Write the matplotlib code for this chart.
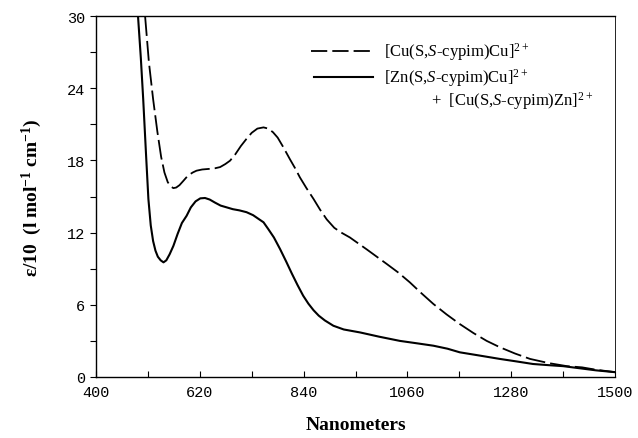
import matplotlib
matplotlib.use("Agg")
from matplotlib import pyplot as plt

plt.rcParams['mathtext.fontset'] = 'custom'
plt.rcParams['mathtext.rm'] = 'Liberation Serif'
plt.rcParams['mathtext.it'] = 'Liberation Serif:italic'
plt.rcParams['mathtext.bf'] = 'Liberation Serif:bold'

# [Cu(S,S-cypim)Cu]2+  (dashed)
cucu_nm = [504, 512, 521, 530, 538, 545, 552, 558, 564, 570, 577, 585, 595, 605, 613, 625, 640,
           652, 663, 674, 684, 695, 707, 719, 730, 742, 755, 765, 775, 785, 797, 811, 822,
           832, 846, 861, 875, 889, 905, 920, 938, 956, 974, 995, 1016, 1040, 1065, 1090,
           1115, 1143, 1171, 1200, 1228, 1256, 1288, 1320, 1360, 1398, 1430, 1460, 1500]
cucu_eps = [30.0, 26.2, 23.1, 20.4, 18.3, 17.0, 16.2, 15.85, 15.7, 15.75, 15.95, 16.3, 16.75, 17.0, 17.15, 17.25, 17.3,
            17.35, 17.45, 17.7, 17.98, 18.5, 19.2, 19.8, 20.3, 20.65, 20.75, 20.65, 20.35, 19.9, 19.1, 18.1, 17.35,
            16.6, 15.7, 14.8, 13.9, 13.1, 12.4, 12.0, 11.6, 11.1, 10.6, 10.0, 9.4, 8.7, 7.87, 6.95,
            6.07, 5.2, 4.4, 3.65, 3.0, 2.47, 1.95, 1.5, 1.15, 0.9, 0.8, 0.6, 0.4]

# [Zn(S,S-cypim)Cu]2+ + [Cu(S,S-cypim)Zn]2+  (solid)
zncu_nm = [489, 495, 500, 506, 511, 516, 521, 526, 531, 537, 543, 549, 556, 564, 573, 582, 592,
           601, 611, 621, 631, 641, 652, 664, 677, 690, 704, 719, 733, 746, 755, 765, 777, 790,
           803, 815, 827, 839, 850, 861, 872, 885, 903, 925, 960, 1000, 1044, 1080, 1115, 1145,
           1171, 1210, 1256, 1290, 1326, 1360, 1390, 1420, 1460, 1500]
zncu_eps = [30.0, 26.5, 23.1, 18.5, 14.8, 12.6, 11.3, 10.5, 10.0, 9.7, 9.53, 9.7, 10.2, 10.9, 11.9, 12.8, 13.4,
            14.1, 14.6, 14.85, 14.88, 14.75, 14.5, 14.25, 14.1, 13.95, 13.85, 13.7, 13.45, 13.1, 12.86, 12.3, 11.6, 10.64,
            9.6, 8.6, 7.65, 6.76, 6.1, 5.55, 5.1, 4.7, 4.26, 3.95, 3.7, 3.35, 3.0, 2.8, 2.6, 2.35,
            2.05, 1.8, 1.5, 1.3, 1.08, 0.98, 0.9, 0.75, 0.55, 0.4]

x_major = [400, 620, 840, 1060, 1280, 1500]
x_minor = [510, 730, 950, 1170, 1390]
y_major = [0, 6, 12, 18, 24, 30]
y_minor = [3, 9, 15, 21, 27]

fig = plt.figure(figsize=(6.38, 4.39), dpi=100)
ax = fig.add_axes([0.1505, 0.139, 0.8135, 0.822])

ax.plot(cucu_nm, cucu_eps, color='black', lw=1.3, dashes=(11, 2.8))
ax.plot(zncu_nm, zncu_eps, color='black', lw=1.5)

ax.set_xlim(400, 1500)
ax.set_ylim(0, 30)
ax.set_xticks(x_major)
ax.set_xticks(x_minor, minor=True)
ax.set_yticks(y_major)
ax.set_yticks(y_minor, minor=True)
ax.tick_params(axis='x', which='both', direction='in', length=4, width=0.8, pad=6)
ax.tick_params(axis='y', which='both', direction='out', length=4, width=0.8, pad=4)
for lab in ax.get_xticklabels() + ax.get_yticklabels():
    lab.set_fontfamily('Liberation Mono')
    lab.set_fontsize(11)

for s in ['left', 'bottom', 'top']:
    ax.spines[s].set_linewidth(1.0)
ax.spines['right'].set_linewidth(0.6)

ax.set_xlabel('Nanometers', fontfamily='Liberation Serif', fontweight='bold', fontsize=14, labelpad=12)
ax.set_ylabel(r'$\mathbf{\varepsilon/10\ \ (l\ mol^{-1}\ cm^{-1})}$', fontsize=14, labelpad=16)

# legend drawn by hand
tr = ax.transAxes
ax.plot([0.414, 0.533], [0.903, 0.903], transform=tr, color='black', lw=1.3, dashes=(9, 2.8))
ax.plot([0.420, 0.533], [0.831, 0.831], transform=tr, color='black', lw=1.5)
ax.text(0.555, 0.903, r'[Cu(S,$\mathit{S}$-cypim)Cu]$^{2+}$', transform=tr, fontsize=12, va='center',
        fontfamily='Liberation Serif')
ax.text(0.555, 0.831, r'[Zn(S,$\mathit{S}$-cypim)Cu]$^{2+}$', transform=tr, fontsize=12, va='center',
        fontfamily='Liberation Serif')
ax.text(0.645, 0.768, r'+  [Cu(S,$\mathit{S}$-cypim)Zn]$^{2+}$', transform=tr, fontsize=12, va='center',
        fontfamily='Liberation Serif')

fig.savefig('out.png', dpi=100)
